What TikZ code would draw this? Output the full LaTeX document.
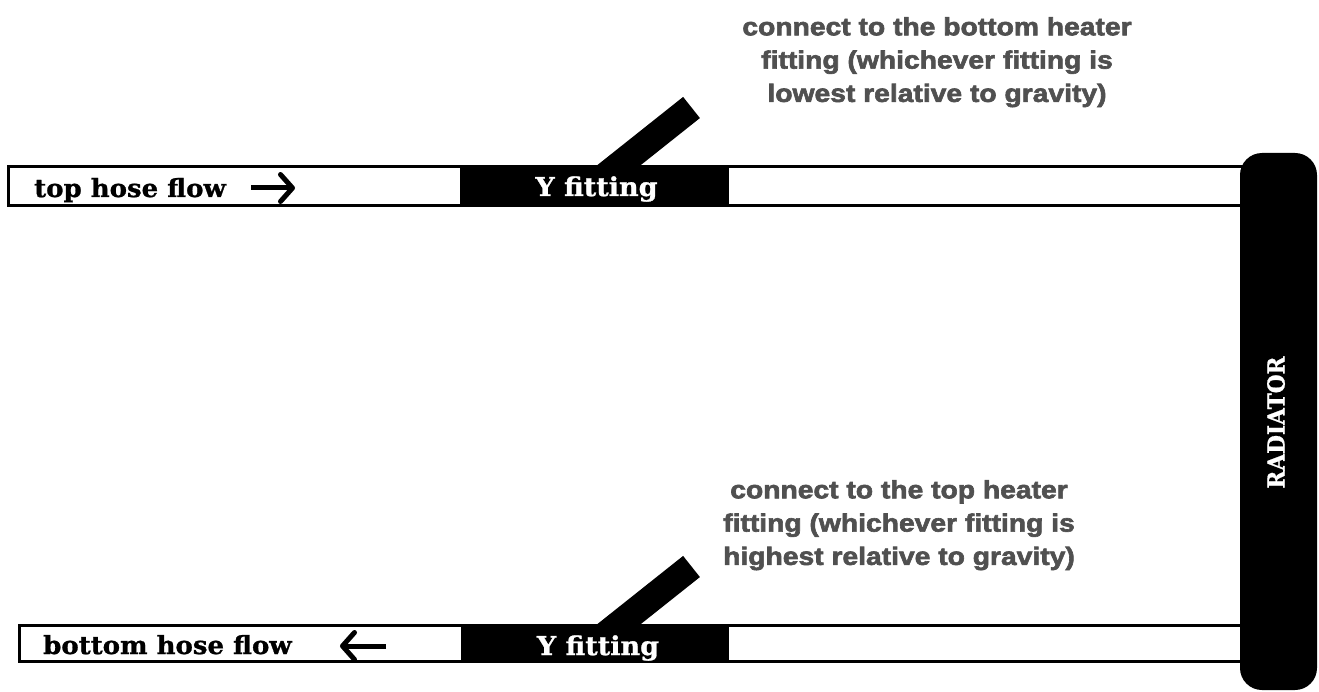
\documentclass[tikz,border=0pt]{standalone}
\usepackage{fontspec}
\usetikzlibrary{arrows.meta}
\newfontfamily\hosefont{DejaVu Serif}[FakeStretch=1.04,FakeBold=1]
\newfontfamily\radfont{DejaVu Serif}[FakeStretch=0.92,FakeBold=1]
\newfontfamily\notefont{Liberation Sans}[FakeStretch=1.13,FakeBold=2.5]
\definecolor{notegray}{HTML}{505050}
\begin{document}
\begin{tikzpicture}[x=1pt,y=-1pt,
  hose/.style={draw=black,line width=3pt,fill=white},
  yfit/.style={fill=black},
  stub/.style={line width=27pt,black},
  hosetext/.style={font=\hosefont\bfseries\fontsize{25}{28}\selectfont,inner sep=0pt},
  fittext/.style={font=\hosefont\bfseries\fontsize{26}{28}\selectfont,inner sep=0pt,text=white},
  radtext/.style={font=\radfont\bfseries\fontsize{23.5}{26}\selectfont,text=white,inner sep=0pt},
  note/.style={font=\notefont\bfseries\fontsize{25}{33.3}\selectfont,text=notegray,align=center,inner sep=0pt},
  flowarrow/.style={line width=5pt,-{Straight Barb[length=12pt,width=27pt,line cap=round,line join=round]}}
]
\useasboundingbox (0,0) rectangle (1319,692);
% hoses
\path[hose] (8,166.5) rectangle (1260,205.5);
\path[hose] (19,625.5) rectangle (1260,661.5);
% Y fittings
\path[yfit] (460,165) rectangle (729,207);
\path[yfit] (461,624) rectangle (729,663);
% stubs
\coordinate (s1a) at (594,185);
\coordinate (s1b) at (691.5,107.5);
\draw[stub] (s1a) -- (s1b);
\coordinate (s2a) at (594,644);
\coordinate (s2b) at (691.5,566.5);
\draw[stub] (s2a) -- (s2b);
% radiator
\fill[black,rounded corners=22pt] (1240,153) rectangle (1317,690);
\node[radtext,rotate=90] (rad) at (1276,422.5) {RADIATOR};
% hose texts
\node[hosetext,anchor=base west] (ttop) at (34,197) {top hose flow};
\node[hosetext,anchor=base west] (tbot) at (43,654) {bottom hose flow};
\node[fittext,anchor=base] (ytop) at (596.5,196) {Y fitting};
\node[fittext,anchor=base] (ybot) at (598,655) {Y fitting};
% flow arrows
\coordinate (a1s) at (251,188);
\coordinate (a1e) at (295,188);
\draw[flowarrow] (a1s) -- (a1e);
\coordinate (a2s) at (386,646);
\coordinate (a2e) at (340,646);
\draw[flowarrow] (a2s) -- (a2e);
% notes
\node[note,anchor=north] (n1) at (937,17) {connect to the bottom heater\\fitting (whichever fitting is\\lowest relative to gravity)};
\node[note,anchor=north] (n2) at (899,480) {connect to the top heater\\fitting (whichever fitting is\\highest relative to gravity)};
\end{tikzpicture}
\end{document}
